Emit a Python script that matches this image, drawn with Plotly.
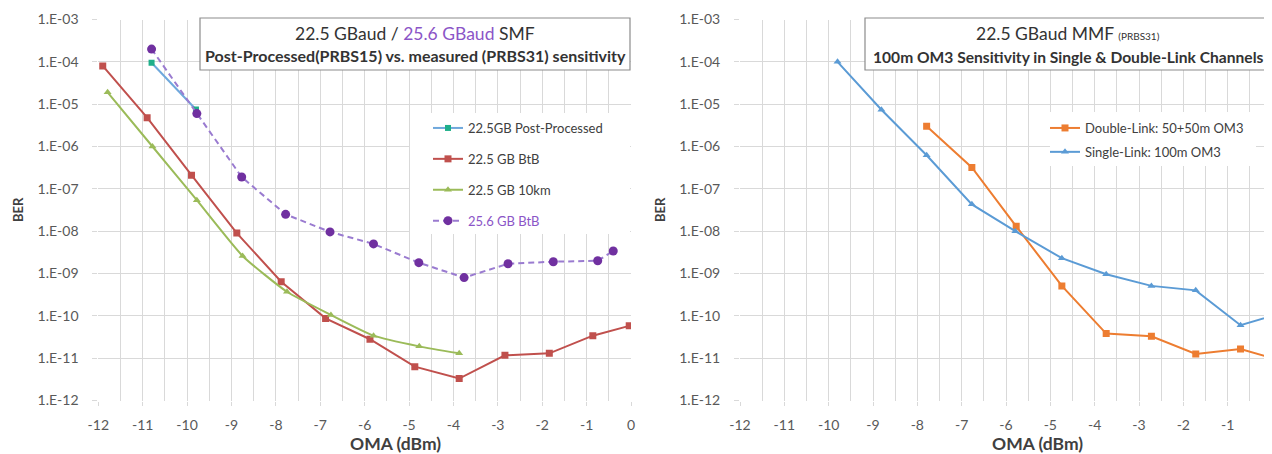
import plotly.graph_objects as go

# ---------------- data ----------------
# Left chart: 22.5 / 25.6 GBaud SMF
x_pp = [-10.8, -9.8]
ber_pp = [9.5e-5, 7.5e-6]

x_btb = [-11.9, -10.9, -9.9, -8.88, -7.88, -6.88, -5.88, -4.87, -3.87, -2.84, -1.84, -0.86, -0.04]
ber_btb = [8e-5, 4.8e-6, 2.1e-7, 9e-9, 6.4e-10, 8.7e-11, 2.8e-11, 6.3e-12, 3.3e-12, 1.17e-11, 1.3e-11, 3.4e-11, 5.8e-11]

x_10km = [-11.79, -10.78, -9.78, -8.75, -7.75, -6.76, -5.8, -4.77, -3.87]
ber_10km = [1.9e-5, 1e-6, 5.4e-8, 2.6e-9, 3.7e-10, 1.05e-10, 3.4e-11, 1.9e-11, 1.3e-11]

x_256 = [-10.8, -9.78, -8.77, -7.78, -6.78, -5.8, -4.78, -3.76, -2.77, -1.75, -0.75, -0.4]
ber_256 = [2e-4, 6e-6, 1.9e-7, 2.5e-8, 9.6e-9, 5e-9, 1.8e-9, 8e-10, 1.7e-9, 1.9e-9, 2e-9, 3.4e-9]

# Right chart: 22.5 GBaud MMF
x_double = [-7.79, -6.77, -5.77, -4.74, -3.74, -2.72, -1.72, -0.71, 0]
ber_double = [3e-6, 3.2e-7, 1.3e-8, 5.1e-10, 3.8e-11, 3.3e-11, 1.26e-11, 1.65e-11, 1e-11]

x_single = [-9.8, -8.81, -7.79, -6.77, -5.79, -4.74, -3.74, -2.72, -1.72, -0.71, 0]
ber_single = [1e-4, 7.4e-6, 6.2e-7, 4.3e-8, 1e-8, 2.3e-9, 9.6e-10, 5.1e-10, 4e-10, 6e-11, 1e-10]

x_ticks = list(range(-12, 1))
y_exps = list(range(-12, -2))
y_ticktext = ["1.E-%02d" % (-e) for e in y_exps]

names_left = ["22.5GB Post-Processed", "22.5 GB BtB", "22.5 GB 10km", "25.6 GB BtB"]
names_right = ["Double-Link: 50+50m OM3", "Single-Link: 100m OM3"]

# ---------------- layout helpers ----------------
# The page body has an 8px default margin, so the figure is sized to fill the
# remaining window and page pixel positions are converted to paper fractions.
OFF = 8
W, H = 1272 - OFF, 454 - OFF
FONT = "Lato, Carlito, Calibri, sans-serif"
PURPLE_TXT = "#8B55C7"


def px(x):
    return (x - OFF) / W


def py(y):
    return 1 - (y - OFF) / H


fig = go.Figure()

# left traces
fig.add_trace(go.Scatter(x=x_pp, y=ber_pp, name=names_left[0], mode="lines+markers",
                         line=dict(color="#6FA8DC", width=2),
                         marker=dict(symbol="square", size=6, color="#1FAF8A"),
                         xaxis="x", yaxis="y", legend="legend", legendgroup="a"))
fig.add_trace(go.Scatter(x=x_btb, y=ber_btb, name=names_left[1], mode="lines+markers",
                         line=dict(color="#C0504D", width=2),
                         marker=dict(symbol="square", size=7, color="#C0504D"),
                         xaxis="x", yaxis="y", legend="legend", legendgroup="b"))
fig.add_trace(go.Scatter(x=x_10km, y=ber_10km, name=names_left[2], mode="lines+markers",
                         line=dict(color="#9BBB59", width=2, shape="spline", smoothing=0.5),
                         marker=dict(symbol="triangle-up", size=7, color="#9BBB59"),
                         xaxis="x", yaxis="y", legend="legend", legendgroup="c"))
fig.add_trace(go.Scatter(x=x_256, y=ber_256,
                         name="<span style='color:%s'>%s</span>" % (PURPLE_TXT, names_left[3]),
                         mode="lines+markers",
                         line=dict(color="#9A7BD0", width=2, dash="6px,4px"),
                         marker=dict(symbol="circle", size=9, color="#7030A0"),
                         xaxis="x", yaxis="y", legend="legend", legendgroup="d"))

# right traces
fig.add_trace(go.Scatter(x=x_double, y=ber_double, name=names_right[0], mode="lines+markers",
                         line=dict(color="#ED7D31", width=2),
                         marker=dict(symbol="square", size=7, color="#ED7D31"),
                         xaxis="x2", yaxis="y2", legend="legend2", legendgroup="e"))
fig.add_trace(go.Scatter(x=x_single, y=ber_single, name=names_right[1], mode="lines+markers",
                         line=dict(color="#5B9BD5", width=2),
                         marker=dict(symbol="triangle-up", size=7, color="#5B9BD5"),
                         xaxis="x2", yaxis="y2", legend="legend2", legendgroup="f"))

GRID = "#D9D9D9"
TICKFONT = dict(family=FONT, size=14, color="#595959")

y_top, y_bot = 19.5, 400.5
left_x0, left_x1 = 98.3, 631
right_x0 = 740

xcommon = dict(range=[-12, 0], tickvals=x_ticks, ticktext=[str(v) for v in x_ticks],
               showgrid=True, gridcolor=GRID, gridwidth=1.3,
               minor=dict(dtick=0.5, showgrid=True, gridcolor=GRID, gridwidth=1.3),
               ticks="outside", ticklen=4, tickcolor=GRID, tickwidth=1.3,
               showline=False, zeroline=False, tickfont=TICKFONT,
               ticklabelstandoff=8, automargin=False, ticklabeloverflow="allow")
ycommon = dict(type="log", range=[-12, -3], tickvals=[10.0 ** e for e in y_exps],
               ticktext=y_ticktext, showgrid=True, gridcolor=GRID, gridwidth=1.3,
               ticks="outside", ticklen=5, tickcolor=GRID, tickwidth=1.3,
               showline=False, zeroline=False, tickfont=TICKFONT,
               ticklabelstandoff=11, automargin=False)

fig.update_layout(
    width=W, height=H, margin=dict(l=0, r=0, t=0, b=0, autoexpand=False),
    paper_bgcolor="white", plot_bgcolor="white",
    font=dict(family=FONT, color="#404040"),
    xaxis=dict(domain=[px(left_x0), px(left_x1)], anchor="y", **xcommon),
    yaxis=dict(domain=[py(y_bot), py(y_top)], anchor="x", **ycommon),
    xaxis2=dict(domain=[px(right_x0), 1.0], anchor="y2", **xcommon),
    yaxis2=dict(domain=[py(y_bot), py(y_top)], anchor="x2", **ycommon),
    legend=dict(x=px(428), y=py(113), xanchor="left", yanchor="top",
                bgcolor="rgba(0,0,0,0)", borderwidth=0, itemwidth=30,
                tracegroupgap=11, traceorder="grouped",
                font=dict(family=FONT, size=13, color="#404040")),
    legend2=dict(x=px(1045), y=py(113), xanchor="left", yanchor="top",
                 bgcolor="rgba(0,0,0,0)", borderwidth=0, itemwidth=30,
                 tracegroupgap=4, traceorder="grouped",
                 font=dict(family=FONT, size=13, color="#404040")),
)

shapes = [
    # white legend backgrounds
    dict(type="rect", xref="paper", yref="paper", x0=px(410), x1=px(630), y0=py(234), y1=py(113),
         fillcolor="white", line=dict(width=0), layer="above"),
    dict(type="rect", xref="paper", yref="paper", x0=px(1050), x1=px(1256), y0=py(166), y1=py(112),
         fillcolor="white", line=dict(width=0), layer="above"),
    # title boxes
    dict(type="rect", xref="paper", yref="paper", x0=px(200), x1=px(630), y0=py(70), y1=py(18),
         fillcolor="white", line=dict(color="#8C8C8C", width=1.2), layer="above"),
    dict(type="rect", xref="paper", yref="paper", x0=px(865), x1=px(1273), y0=py(70), y1=py(18),
         fillcolor="white", line=dict(color="#8C8C8C", width=1.2), layer="above"),
]

annotations = [
    dict(text="22.5 GBaud / <span style='color:%s'>25.6 GBaud</span> SMF" % PURPLE_TXT,
         x=px(415), y=py(33), font=dict(family=FONT, size=17.5, color="#333333")),
    dict(text="<b>Post-Processed(PRBS15) vs. measured (PRBS31) sensitivity</b>",
         x=px(415), y=py(56), font=dict(family=FONT, size=16, color="#333333")),
    dict(text="22.5 GBaud MMF <span style='font-size:10px'>(PRBS31)</span>",
         x=px(1068), y=py(33), font=dict(family=FONT, size=17.5, color="#333333")),
    dict(text="<b>100m OM3 Sensitivity in Single &amp; Double-Link Channels</b>",
         x=px(1068), y=py(57), font=dict(family=FONT, size=15.6, color="#333333")),
    dict(text="<b>BER</b>", x=px(18), y=py(210), textangle=-90,
         font=dict(family=FONT, size=13, color="#404040")),
    dict(text="<b>BER</b>", x=px(660), y=py(210), textangle=-90,
         font=dict(family=FONT, size=13, color="#404040")),
    dict(text="<b>OMA (dBm)</b>", x=px(395.5), y=py(443),
         font=dict(family=FONT, size=17.5, color="#404040")),
    dict(text="<b>OMA (dBm)</b>", x=px(1037.5), y=py(443),
         font=dict(family=FONT, size=17.5, color="#404040")),
]
for a in annotations:
    a.update(xref="paper", yref="paper", xanchor="center", yanchor="middle", showarrow=False)

fig.update_layout(shapes=shapes, annotations=annotations)

fig.write_html("out.html")
